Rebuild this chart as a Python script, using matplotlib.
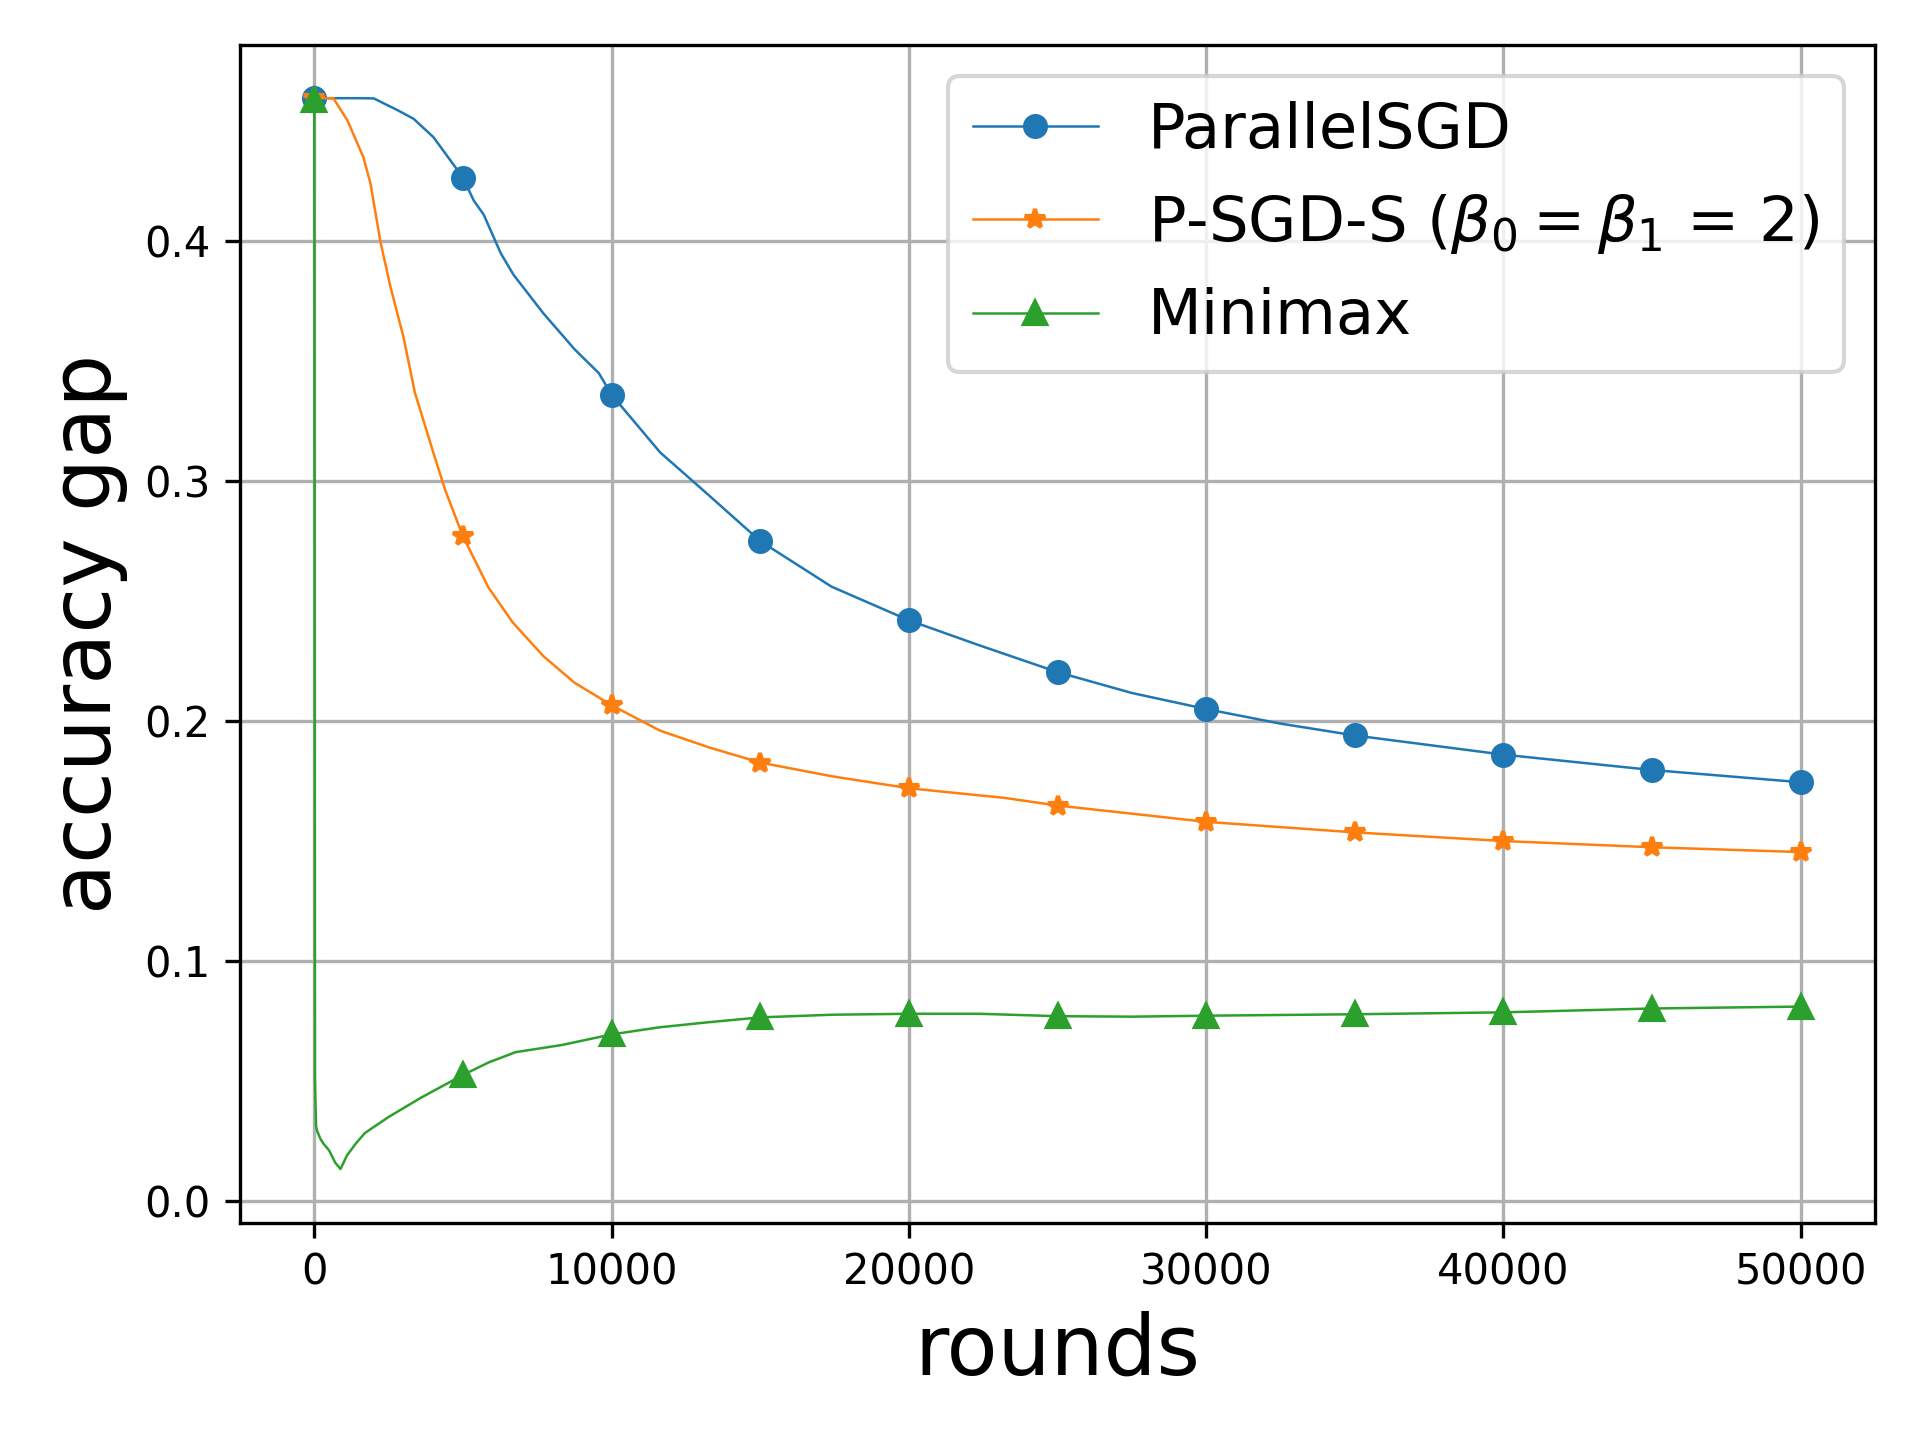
import numpy as np
import matplotlib
matplotlib.use("Agg")
import matplotlib.pyplot as plt

# values
psgd_x = [0, 500, 1000, 1500, 2000, 2800, 3340, 4010, 5000, 5360, 5700, 6270, 6700,
          7700, 8750, 9570, 10000, 11630, 13280, 15000, 17400, 20000, 22360, 25000,
          27500, 30000, 32470, 35000, 40000, 45000, 50000]
psgd_y = [0.4596, 0.4596, 0.4596, 0.4596, 0.4595, 0.4546, 0.451, 0.4433, 0.4265, 0.417,
          0.411, 0.395, 0.386, 0.370, 0.355, 0.345, 0.336, 0.312, 0.294, 0.275, 0.256,
          0.242, 0.2316, 0.2204, 0.2117, 0.205, 0.199, 0.194, 0.186, 0.1796, 0.1745]

pss_x = [0, 640, 1110, 1650, 1890, 2220, 2560, 3000, 3380, 4000, 4410, 5000, 5860,
         6680, 7710, 8750, 10000, 11630, 13280, 15000, 17400, 20000, 23200, 25000,
         30000, 35000, 40000, 45000, 50000]
pss_y = [0.4596, 0.4596, 0.4504, 0.435, 0.424, 0.400, 0.381, 0.360, 0.337, 0.312, 0.296,
         0.277, 0.2556, 0.241, 0.227, 0.216, 0.2066, 0.196, 0.189, 0.1827, 0.177, 0.172,
         0.168, 0.1648, 0.158, 0.1536, 0.150, 0.1474, 0.1454]

mm_x = [0, 20, 40, 60, 100, 200, 300, 400, 500, 700, 880, 1100, 1400, 1700, 2500,
        3570, 5000, 5860, 6770, 8330, 10000, 11630, 13280, 15000, 17400, 20000,
        22360, 25000, 27500, 30000, 35000, 40000, 45000, 50000]
mm_y = [0.459, 0.052, 0.040, 0.031, 0.029, 0.026, 0.024, 0.0225, 0.021, 0.016, 0.0133,
        0.019, 0.024, 0.0283, 0.035, 0.0429, 0.0525, 0.0577, 0.062, 0.065, 0.0694, 0.0724,
        0.0745, 0.0765, 0.0776, 0.078, 0.078, 0.077, 0.0768, 0.0772, 0.0778, 0.0786,
        0.0802, 0.081]

marker_rounds = list(range(0, 50001, 5000))


def marks(xs):
    return [i for i, v in enumerate(xs) if v in marker_rounds]


fig = plt.figure(figsize=(6.4, 4.8), dpi=300)
ax = fig.add_axes([0.125, 0.151, 0.8516, 0.818])

ax.plot(psgd_x, psgd_y, marker="o", markersize=5, linewidth=0.6,
        markevery=marks(psgd_x), color="#1f77b4", label="ParallelSGD")
ax.plot(pss_x, pss_y, marker="*", markersize=5, linewidth=0.6,
        markevery=marks(pss_x), color="#ff7f0e",
        label=r"P-SGD-S ($\beta_0 = \beta_1$ = 2)")
ax.plot(mm_x, mm_y, marker="^", markersize=5.5, linewidth=0.6,
        markevery=marks(mm_x), color="#2ca02c", label="Minimax")

ax.set_xticks(marker_rounds[::2])
ax.grid(True)
ax.set_xlabel("rounds", fontsize=20)
ax.set_ylabel("accuracy gap", fontsize=20)
ax.legend(loc="upper right", fontsize=15)

fig.savefig("out.png", dpi=300)
